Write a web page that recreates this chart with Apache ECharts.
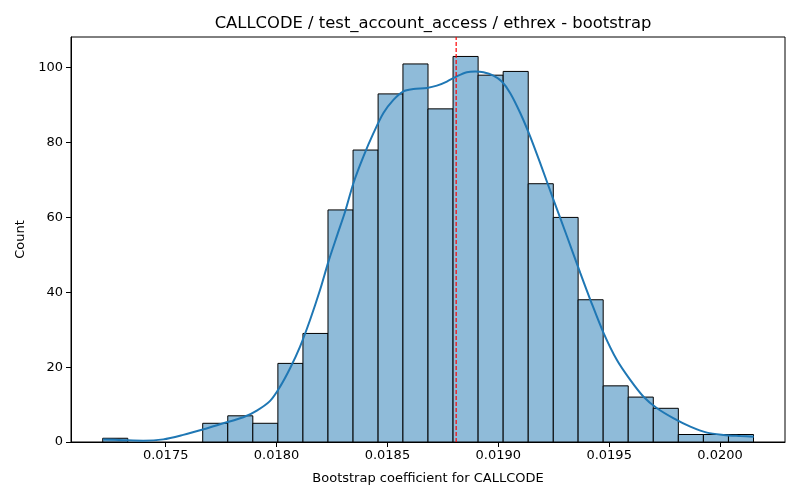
<!DOCTYPE html>
<html>
<head>
    <meta charset="utf-8">
    <title>ECharts</title>
    <script type="text/javascript" src="https://cdn.jsdelivr.net/npm/echarts@6/dist/echarts.min.js"></script>
</head>
<body style="margin:0">
<div id="main" style="width: 800px;height:500px;"></div>

<script type="text/javascript">
    // histogram bins (edges) and counts
    var binEdges = [0.017216, 0.017329, 0.017442, 0.017555, 0.017667, 0.017780, 0.017893,
        0.018006, 0.018119, 0.018232, 0.018345, 0.018458, 0.018570, 0.018683, 0.018796,
        0.018909, 0.019022, 0.019135, 0.019248, 0.019360, 0.019473, 0.019586, 0.019699,
        0.019812, 0.019925, 0.020038, 0.020151];
    var counts = [1, 0, 0, 0, 5, 7, 5, 21, 29, 62, 78, 93, 101, 89, 103, 98, 99, 69, 60, 38, 15, 12, 9, 2, 2, 2];

    // kde curve (scaled to counts)
    var kdeX = [0.017218, 0.017309, 0.017399, 0.017489, 0.017579, 0.017670, 0.017760, 0.017850,
        0.017911, 0.017971, 0.018016, 0.018061, 0.018106, 0.018151, 0.018196, 0.018234, 0.018272,
        0.018309, 0.018347, 0.018392, 0.018437, 0.018482, 0.018527, 0.018572, 0.018617, 0.018678,
        0.018723, 0.018768, 0.018813, 0.018858, 0.018896, 0.018933, 0.018978, 0.019016, 0.019054,
        0.019099, 0.019144, 0.019189, 0.019249, 0.019310, 0.019370, 0.019415, 0.019475, 0.019535,
        0.019595, 0.019655, 0.019716, 0.019791, 0.019866, 0.019941, 0.020016, 0.020092, 0.020152];
    var kdeY = [0.7, 0.5, 0.35, 0.7, 1.9, 3.4, 5.0, 6.6,
        8.4, 11.0, 14.8, 19.7, 25.5, 32.6, 40.6, 48.2, 55.0,
        61.5, 69.2, 76.3, 82.5, 87.9, 91.4, 93.7, 94.3, 94.6,
        95.2, 96.3, 97.7, 98.8, 99.0, 98.8, 97.9, 96.3, 93.2,
        87.9, 81.6, 74.5, 64.7, 54.9, 45.1, 38.0, 29.1, 21.9,
        16.6, 12.1, 9.0, 6.3, 4.1, 2.5, 1.9, 1.6, 1.4];

    var meanValue = 0.01881;
    var xTicks = [0.0175, 0.0180, 0.0185, 0.0190, 0.0195, 0.0200];
    var yMax = 108.2;

    var barData = [];
    for (var i = 0; i < counts.length; i++) {
        if (counts[i] > 0) barData.push([binEdges[i], binEdges[i + 1], counts[i]]);
    }
    var kdeData = kdeX.map(function (x, i) { return [x, kdeY[i]]; });

    var chart = echarts.init(document.getElementById('main'));
    var font = 'DejaVu Sans';
    var option = {
        animation: false,
        textStyle: { fontFamily: font },
        title: {
            text: 'CALLCODE / test_account_access / ethrex - bootstrap',
            left: 428,
            top: 11,
            textAlign: 'center',
            textStyle: { fontFamily: font, fontSize: 16.4, fontWeight: 'normal', color: '#000' }
        },
        grid: {
            left: 71, right: 15, top: 37, bottom: 58,
            show: true, borderColor: '#000', borderWidth: 1
        },
        xAxis: {
            type: 'value',
            min: 0.017073,
            max: 0.020293,
            name: 'Bootstrap coefficient for CALLCODE',
            nameLocation: 'middle',
            nameGap: 30,
            nameTextStyle: { fontFamily: font, fontSize: 13, color: '#000' },
            axisLine: { show: true, onZero: false, lineStyle: { color: '#000' } },
            axisTick: { show: true, length: 5, lineStyle: { color: '#000' }, customValues: xTicks },
            axisLabel: {
                fontFamily: font, fontSize: 13, color: '#000', margin: 7,
                customValues: xTicks,
                formatter: function (v) { return v.toFixed(4); }
            },
            splitLine: { show: false }
        },
        yAxis: {
            type: 'value',
            min: 0,
            max: yMax,
            interval: 20,
            name: 'Count',
            nameLocation: 'middle',
            nameGap: 42,
            nameTextStyle: { fontFamily: font, fontSize: 13, color: '#000' },
            axisLine: { show: true, lineStyle: { color: '#000' } },
            axisTick: { show: true, length: 5, lineStyle: { color: '#000' } },
            axisLabel: {
                fontFamily: font, fontSize: 13, color: '#000', margin: 8,
                showMaxLabel: false
            },
            splitLine: { show: false }
        },
        series: [
            {
                type: 'custom',
                data: barData,
                encode: { x: [0, 1], y: 2 },
                renderItem: function (params, api) {
                    var p0 = api.coord([api.value(0), api.value(2)]);
                    var p1 = api.coord([api.value(1), 0]);
                    return {
                        type: 'rect',
                        shape: { x: p0[0], y: p0[1], width: p1[0] - p0[0], height: p1[1] - p0[1] },
                        style: { fill: '#8fbbd9', stroke: '#000', lineWidth: 1 }
                    };
                },
                z: 2
            },
            {
                type: 'line',
                data: kdeData,
                smooth: 0.3,
                showSymbol: false,
                lineStyle: { color: '#1f77b4', width: 2 },
                z: 3
            },
            {
                // mean marker
                type: 'line',
                data: [[meanValue, 0], [meanValue, yMax]],
                showSymbol: false,
                silent: true,
                lineStyle: { color: '#ff0000', type: [4, 2], width: 1.2 },
                z: 4
            }
        ]
    };
    chart.setOption(option);
</script>
</body>
</html>
